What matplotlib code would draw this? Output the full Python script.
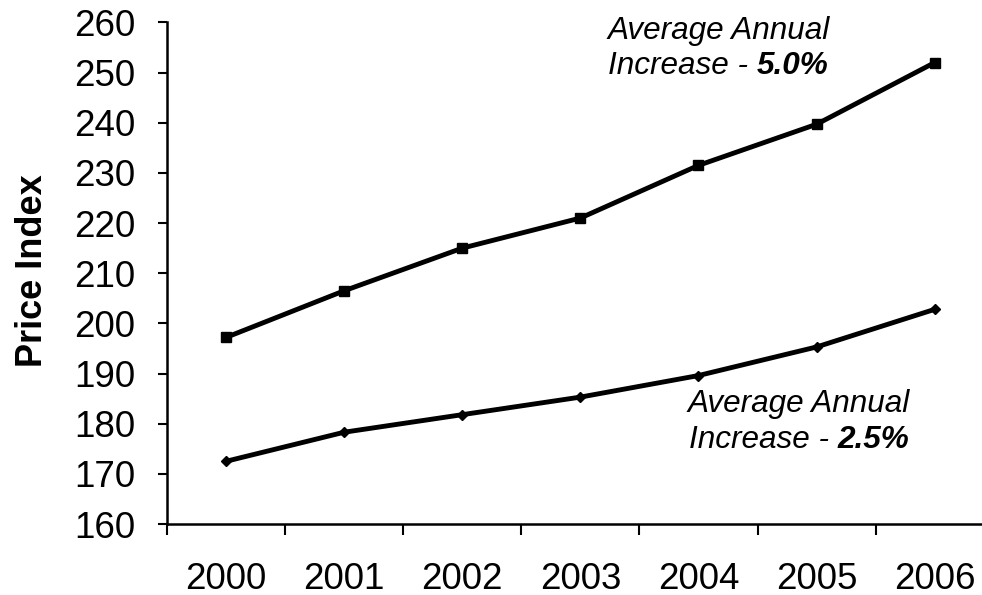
import matplotlib.pyplot as plt

plt.rcParams['font.family'] = ['Liberation Sans', 'DejaVu Sans']

# datos
years = ['2000', '2001', '2002', '2003', '2004', '2005', '2006']
upper = [197.2, 206.5, 215.0, 221.0, 231.5, 239.7, 252.0]
lower = [172.5, 178.3, 181.8, 185.3, 189.6, 195.3, 202.8]
yticks = [160, 170, 180, 190, 200, 210, 220, 230, 240, 250, 260]

fig = plt.figure(figsize=(9.82, 5.95), dpi=100)
ax = fig.add_axes([0.170, 0.1193, 0.842, 0.843])

x = list(range(len(years)))
ax.plot(x, upper, color='black', linewidth=3.5, marker='s', markersize=6.5)
ax.plot(x, lower, color='black', linewidth=3.5, marker='D', markersize=5.5)

ax.set_xlim(-0.5, len(years) - 0.5)
ax.set_ylim(160, 260)
ax.set_yticks(yticks)

# etiquetas centradas, marcas entre categorias
ax.set_xticks(x)
ax.set_xticklabels(years)
ax.set_xticks([i - 0.5 for i in range(len(years) + 1)], minor=True)
ax.tick_params(axis='x', which='major', length=0, pad=27, labelsize=26.5)
ax.tick_params(axis='x', which='minor', length=8, width=1.5, direction='out')
ax.tick_params(axis='y', length=6.5, width=1.5, pad=16.5, labelsize=26.5)

for s in ['top', 'right']:
    ax.spines[s].set_visible(False)
for s in ['left', 'bottom']:
    ax.spines[s].set_linewidth(1.8)

ax.set_ylabel('Price Index', fontsize=26, fontweight='bold')
ax.yaxis.set_label_coords(-0.142, 0.506)

# anotaciones
fs = 22.7
ax.text(3.23, 258.3, 'Average Annual', fontsize=fs, style='italic', ha='left', va='center')
ax.text(4.49, 251.3, 'Increase - ', fontsize=fs, style='italic', ha='right', va='center')
ax.text(4.49, 251.3, '5.0%', fontsize=fs, style='italic', fontweight='bold', ha='left', va='center')

ax.text(3.91, 183.9, 'Average Annual', fontsize=fs, style='italic', ha='left', va='center')
ax.text(5.18, 176.7, 'Increase - ', fontsize=fs, style='italic', ha='right', va='center')
ax.text(5.18, 176.7, '2.5%', fontsize=fs, style='italic', fontweight='bold', ha='left', va='center')

fig.savefig('out.png', dpi=100)
